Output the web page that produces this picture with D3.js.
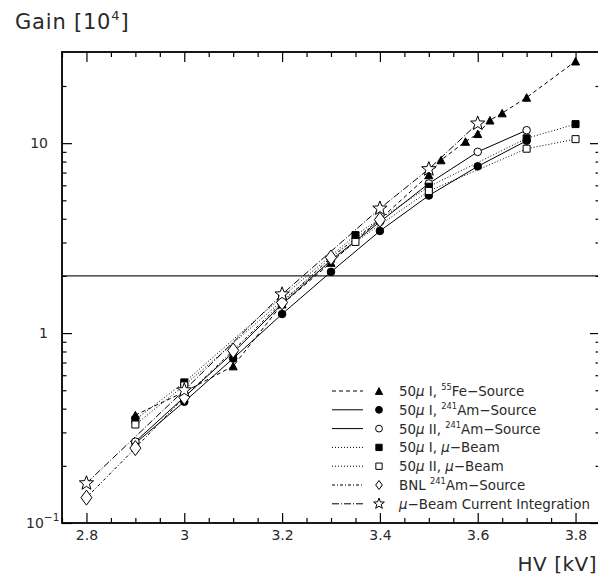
<!DOCTYPE html>
<html>
<head>
<meta charset="utf-8">
<script src="https://cdn.jsdelivr.net/npm/d3@7"></script>
<style>
  body { margin: 0; background: #fff; }
  svg { display: block; }
  text { font-family: "DejaVu Sans", "Liberation Sans", sans-serif; fill: #2a2a2a; }
</style>
</head>
<body>
<svg id="chart" width="598" height="576"></svg>
<script>
// High voltage [kV] and gain [10^4] for each measurement set
const feHV     = [2.9, 3.0, 3.1, 3.2, 3.3, 3.4, 3.5, 3.525, 3.575, 3.6, 3.625, 3.65, 3.7, 3.8];
const feGain   = [0.37, 0.49, 0.67, 1.42, 2.35, 3.97, 6.8, 8.15, 10.2, 11.2, 13.2, 14.4, 17.4, 27];
const amIHV    = [2.9, 3.0, 3.1, 3.2, 3.3, 3.4, 3.5, 3.6, 3.7];
const amIGain  = [0.263, 0.435, 0.735, 1.26, 2.1, 3.45, 5.3, 7.55, 10.3];
const amIIHV   = [2.9, 3.0, 3.1, 3.2, 3.3, 3.4, 3.5, 3.6, 3.7];
const amIIGain = [0.268, 0.46, 0.79, 1.42, 2.42, 3.85, 6.13, 9.0, 11.7];
const muIHV    = [2.9, 3.0, 3.2, 3.35, 3.5, 3.7, 3.8];
const muIGain  = [0.35, 0.55, 1.55, 3.28, 5.9, 10.6, 12.6];
const muIIHV   = [2.9, 3.0, 3.2, 3.35, 3.5, 3.7, 3.8];
const muIIGain = [0.33, 0.53, 1.48, 3.02, 5.6, 9.35, 10.5];
const bnlHV    = [2.8, 2.9, 3.0, 3.1, 3.2, 3.3, 3.4];
const bnlGain  = [0.136, 0.248, 0.46, 0.81, 1.45, 2.5, 3.95];
const curHV    = [2.8, 3.0, 3.2, 3.4, 3.5, 3.6];
const curGain  = [0.162, 0.50, 1.6, 4.53, 7.3, 12.7];

// Axis ticks and the reference gain level
const hvTicks    = [2.8, 3, 3.2, 3.4, 3.6, 3.8];
const gainTicks  = [0.1, 1, 10];
const refGain    = 2;

// Legend entries: text pieces ("it" = italic, "sup" = superscript)
const legendLabels = [
  [["50"], ["μ", "it"], [" I,  "], ["55", "sup"], ["Fe−Source"]],
  [["50"], ["μ", "it"], [" I,  "], ["241", "sup"], ["Am−Source"]],
  [["50"], ["μ", "it"], [" II, "], ["241", "sup"], ["Am−Source"]],
  [["50"], ["μ", "it"], [" I,  "], ["μ", "it"], ["−Beam"]],
  [["50"], ["μ", "it"], [" II, "], ["μ", "it"], ["−Beam"]],
  [["BNL "], ["241", "sup"], ["Am−Source"]],
  [["μ", "it"], ["−Beam Current Integration"]]
];

const svg = d3.select("#chart");
const plotL = 62, plotR = 600, plotT = 52, plotB = 523;

const x = d3.scaleLinear().domain([2.75, 3.85]).range([plotL, plotR]);
const y = d3.scaleLog().domain([0.1, 30.2]).range([plotB, plotT]);

// Series styling
const series = [
  { hv: feHV,   g: feGain,   dash: "4,3",      mark: "triangle", fill: true  },
  { hv: amIHV,  g: amIGain,  dash: null,       mark: "circle",   fill: true  },
  { hv: amIIHV, g: amIIGain, dash: null,       mark: "circle",   fill: false },
  { hv: muIHV,  g: muIGain,  dash: "1,2",      mark: "square",   fill: true  },
  { hv: muIIHV, g: muIIGain, dash: "1,2",      mark: "square",   fill: false },
  { hv: bnlHV,  g: bnlGain,  dash: "3,2,1,2",  mark: "diamond",  fill: false },
  { hv: curHV,  g: curGain,  dash: "7,2,1,2",  mark: "star",     fill: false }
];

function starPath(R) {
  const r = R * 0.42, pts = [];
  for (let i = 0; i < 10; i++) {
    const a = -Math.PI / 2 + i * Math.PI / 5, rr = i % 2 ? r : R;
    pts.push([rr * Math.cos(a), rr * Math.sin(a)]);
  }
  return "M" + pts.map(p => p[0].toFixed(2) + "," + p[1].toFixed(2)).join("L") + "Z";
}

function markerPath(type, scale) {
  const s = scale;
  switch (type) {
    case "circle":   return d3.symbol(d3.symbolCircle, Math.PI * (3.8 * s) ** 2)();
    case "square":   return d3.symbol(d3.symbolSquare, (7 * s) ** 2)();
    case "triangle": {
      const w = 8 * s, h = 7.5 * s;
      return `M0,${-h / 2}L${w / 2},${h / 2}L${-w / 2},${h / 2}Z`;
    }
    case "diamond": {
      const w = 11 * s, h = 15 * s;
      return `M0,${-h / 2}L${w / 2},0L0,${h / 2}L${-w / 2},0Z`;
    }
    case "star": return starPath(7.5 * s);
  }
}

function drawMarker(g, type, filled, cx, cy, scale) {
  g.append("path")
    .attr("d", markerPath(type, scale))
    .attr("transform", `translate(${cx},${cy})`)
    .attr("fill", filled ? "#000" : "#fff")
    .attr("stroke", "#000")
    .attr("stroke-width", 1);
}

// Reference level
svg.append("line")
  .attr("x1", plotL).attr("x2", plotR)
  .attr("y1", y(refGain)).attr("y2", y(refGain))
  .attr("stroke", "#222").attr("stroke-width", 1.4);

// Series lines, then markers
const plot = svg.append("g");
const line = d3.line().x(d => x(d[0])).y(d => y(d[1]));
series.forEach(s => {
  const pts = s.hv.map((v, i) => [v, s.g[i]]);
  plot.append("path")
    .attr("d", line(pts))
    .attr("fill", "none")
    .attr("stroke", "#000")
    .attr("stroke-width", 1)
    .attr("stroke-dasharray", s.dash);
});
series.forEach(s => {
  const mg = plot.append("g");
  s.hv.forEach((v, i) => drawMarker(mg, s.mark, s.fill, x(v), y(s.g[i]), 1));
});

// Frame
svg.append("rect")
  .attr("x", plotL).attr("y", plotT)
  .attr("width", plotR - plotL).attr("height", plotB - plotT)
  .attr("fill", "none").attr("stroke", "#000").attr("stroke-width", 1.8);

// Axes: major and minor ticks pointing inward
const hvMinor = d3.range(2.75, 3.851, 0.05).map(v => +v.toFixed(2)).filter(v => !hvTicks.includes(v));
const gainMinor = [];
[0.1, 1, 10].forEach(dec => { for (let k = 2; k <= 9; k++) { const v = +(dec * k).toPrecision(3); if (v < 30) gainMinor.push(v); } });

function styleAxis(g) {
  g.select(".domain").remove();
  g.selectAll(".tick line").attr("stroke", "#000").attr("stroke-width", 1.2);
  g.selectAll("text").attr("font-size", 14).attr("fill", "#2a2a2a")
    .attr("font-family", "DejaVu Sans, sans-serif");
}

svg.append("g").attr("transform", `translate(0,${plotB})`)
  .call(d3.axisBottom(x).tickValues(hvTicks).tickSize(-10).tickPadding(7).tickFormat(d3.format("")))
  .call(styleAxis);
svg.append("g").attr("transform", `translate(0,${plotB})`)
  .call(d3.axisBottom(x).tickValues(hvMinor).tickSize(-5).tickFormat(""))
  .call(styleAxis);
svg.append("g").attr("transform", `translate(0,${plotT})`)
  .call(d3.axisTop(x).tickValues(hvTicks).tickSize(-10).tickFormat(""))
  .call(styleAxis);
svg.append("g").attr("transform", `translate(0,${plotT})`)
  .call(d3.axisTop(x).tickValues(hvMinor).tickSize(-5).tickFormat(""))
  .call(styleAxis);

svg.append("g").attr("transform", `translate(${plotL},0)`)
  .call(d3.axisLeft(y).tickValues(gainTicks).tickSize(-10).tickPadding(14)
    .tickFormat(d => d < 1 ? "" : d3.format("")(d)))
  .call(styleAxis);
svg.append("g").attr("transform", `translate(${plotL},0)`)
  .call(d3.axisLeft(y).tickValues(gainMinor).tickSize(-4.5).tickFormat(""))
  .call(styleAxis);
svg.append("g").attr("transform", `translate(${plotR},0)`)
  .call(d3.axisRight(y).tickValues(gainTicks).tickSize(-10).tickFormat(""))
  .call(styleAxis);
svg.append("g").attr("transform", `translate(${plotR},0)`)
  .call(d3.axisRight(y).tickValues(gainMinor).tickSize(-4.5).tickFormat(""))
  .call(styleAxis);

// Rich text helper for superscripts and italic symbols
function richText(t, parts, fs) {
  let raised = false;
  parts.forEach(([txt, kind]) => {
    const sp = t.append("tspan").text(txt);
    if (kind === "sup") {
      sp.attr("font-size", fs * 0.62).attr("dy", raised ? 0 : -fs * 0.42);
      raised = true;
    } else {
      if (raised) { sp.attr("dy", fs * 0.42); raised = false; }
      if (kind === "it") sp.attr("font-style", "italic");
    }
  });
}

// 10^-1 label at the bottom of the gain axis
richText(svg.append("text").attr("x", 26).attr("y", y(0.1) + 5).attr("font-size", 14),
  [["10"], ["−1", "sup"]], 17);

// Axis titles
richText(svg.append("text").attr("x", 15).attr("y", 29).attr("font-size", 21).attr("letter-spacing", 0.8),
  [["Gain [10"], ["4", "sup"], ["]"]], 21);
svg.append("text").attr("x", 597).attr("y", 571).attr("text-anchor", "end")
  .attr("font-size", 20).attr("letter-spacing", 0.5).text("HV [kV]");

// Legend
const legend = svg.append("g");
series.forEach((s, i) => {
  const cy = 391 + i * 18.8;
  legend.append("line")
    .attr("x1", 332).attr("x2", 363).attr("y1", cy).attr("y2", cy)
    .attr("stroke", "#000").attr("stroke-width", 1)
    .attr("stroke-dasharray", s.dash);
  drawMarker(legend, s.mark, s.fill, 379, cy, s.mark === "diamond" ? 0.6 : (s.mark === "star" ? 0.75 : 0.9));
  const t = legend.append("text").attr("x", 399).attr("y", cy + 5).attr("font-size", 13.4);
  richText(t, legendLabels[i], 13.4);
});
</script>
</body>
</html>
